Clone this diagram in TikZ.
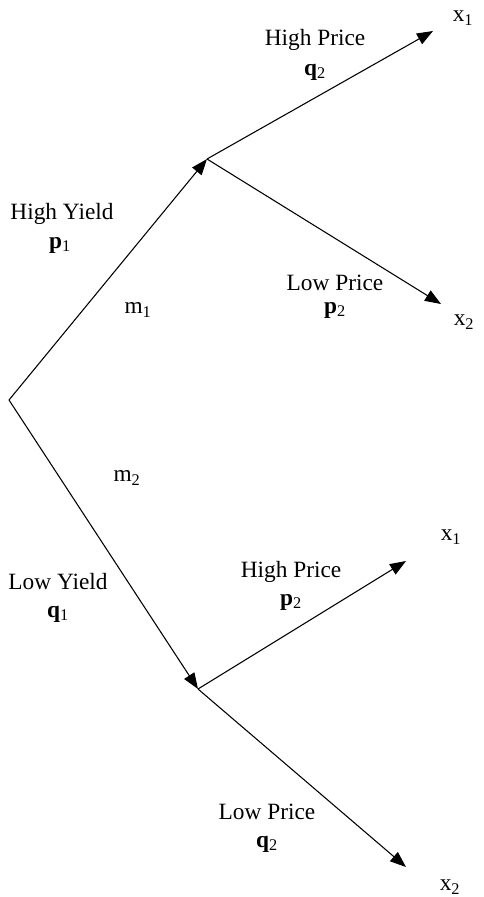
\documentclass[tikz,border=0pt]{standalone}
\usepackage{fontspec}
\setmainfont{Liberation Serif}
\usetikzlibrary{arrows.meta}
\begin{document}
\begin{tikzpicture}[x=0.75pt,y=-0.75pt,
  edge/.style={line width=0.8pt,-{Triangle[length=12pt,width=9pt]}},
  lbl/.style={font=\fontsize{17.5pt}{20pt}\selectfont,inner sep=0pt,align=center}]
\useasboundingbox (0,0) rectangle (483,897);
% points
\coordinate (O) at (9,400);
\coordinate (A) at (207,159);
\coordinate (B) at (198,689);
\coordinate (A1) at (433,31);
\coordinate (A2) at (441,304);
\coordinate (B1) at (406,561);
\coordinate (B2) at (406,867);
% connectors
\draw[edge] (O) -- (A);
\draw[edge] (O) -- (B);
\draw[edge] (A) -- (A1);
\draw[edge] (A) -- (A2);
\draw[edge] (B) -- (B1);
\draw[edge] (B) -- (B2);
% labels
\node[lbl] (x1a) at (463,18) {x\textsubscript{1}};
\node[lbl] (hp1) at (315,40) {High Price};
\node[lbl] (q2a) at (315,72) {\textbf{q}\textsubscript{2}};
\node[lbl] (lp1) at (335,283) {Low Price};
\node[lbl] (p2a) at (335,310) {\textbf{p}\textsubscript{2}};
\node[lbl] (x2a) at (464,322) {x\textsubscript{2}};
\node[lbl] (hy) at (62,214) {High Yield};
\node[lbl] (p1) at (60,245) {\textbf{p}\textsubscript{1}};
\node[lbl] (m1) at (138,310) {m\textsubscript{1}};
\node[lbl] (m2) at (127,478) {m\textsubscript{2}};
\node[lbl] (ly) at (58,582) {Low Yield};
\node[lbl] (q1) at (58,614) {\textbf{q}\textsubscript{1}};
\node[lbl] (x1b) at (451,537) {x\textsubscript{1}};
\node[lbl] (hp2) at (291,572) {High Price};
\node[lbl] (p2b) at (291,602) {\textbf{p}\textsubscript{2}};
\node[lbl] (lp2) at (267,812) {Low Price};
\node[lbl] (q2b) at (267,844) {\textbf{q}\textsubscript{2}};
\node[lbl] (x2b) at (450,887) {x\textsubscript{2}};
\end{tikzpicture}
\end{document}
